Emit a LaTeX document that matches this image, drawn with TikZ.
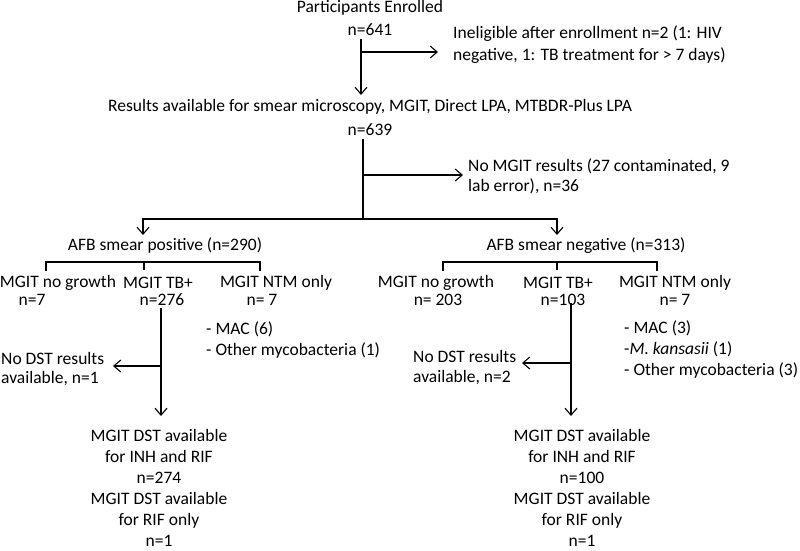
\documentclass[tikz,border=0pt]{standalone}
\usepackage{fontspec}
\setmainfont{Carlito}
\usetikzlibrary{arrows.meta}
\begin{document}
\begin{tikzpicture}[x=1pt,y=-1pt,
  txt/.style={inner sep=0pt,font=\fontsize{17.5}{21}\selectfont},
  lft/.style={txt,anchor=west,align=left},
  ctr/.style={txt,align=center},
  ln/.style={line width=1.1pt},
  arr/.style={ln,-{Straight Barb[length=7pt,width=12pt,line width=1.1pt]}}]
\useasboundingbox (0,0) rectangle (800,550);
% texts
\node[ctr] (pe) at (370,8) {Participants Enrolled};
\node[ctr] (n641) at (370,30) {n=641};
\node[lft,font=\fontsize{17.5}{22}\selectfont] (inel) at (453,44.5) {Ineligible after enrollment n=2 (1: HIV\\negative, 1: TB treatment for > 7 days)};
\node[ctr] (res) at (370,107) {Results available for smear microscopy, MGIT, Direct LPA, MTBDR-Plus LPA};
\node[ctr] (n639) at (370,130) {n=639};
\node[lft,font=\fontsize{17.5}{19.5}\selectfont] (nomgit) at (468,176.5) {No MGIT results (27 contaminated, 9\\lab error), n=36};
\node[ctr] (afbp) at (165,246) {AFB smear positive (n=290)};
\node[ctr] (afbn) at (586,246) {AFB smear negative (n=313)};
% left group
\node[ctr] (pnog) at (58,283) {MGIT no growth};
\node[ctr] (pnogn) at (32,300) {n=7};
\node[ctr] (ptb) at (158,283) {MGIT TB+};
\node[ctr] (ptbn) at (162,300) {n=276};
\node[ctr] (pntm) at (276,283) {MGIT NTM only};
\node[ctr] (pntmn) at (262,300) {n= 7};
\node[lft] (plist) at (206,339.5) {- MAC (6)\\- Other mycobacteria (1)};
\node[lft,font=\fontsize{17.5}{19.5}\selectfont] (pnodst) at (1,369) {No DST results\\available, n=1};
\node[ctr,font=\fontsize{17.5}{21}\selectfont] (pdst) at (159,487.5) {MGIT DST available\\for INH and RIF\\n=274\\MGIT DST available\\for RIF only\\n=1};
% right group
\node[ctr] (nnog) at (436,283) {MGIT no growth};
\node[ctr] (nnogn) at (438,300) {n= 203};
\node[ctr] (ntb) at (558,283) {MGIT TB+};
\node[ctr] (ntbn) at (563,300) {n=103};
\node[ctr] (nntm) at (675,283) {MGIT NTM only};
\node[ctr] (nntmn) at (675,300) {n= 7};
\node[lft] (nlist) at (624,349) {- MAC (3)\\-\textit{M. kansasii} (1)\\- Other mycobacteria (3)};
\node[lft,font=\fontsize{17.5}{19.5}\selectfont] (nnodst) at (413,367.5) {No DST results\\available, n=2};
\node[ctr,font=\fontsize{17.5}{21}\selectfont] (ndst) at (582,487.5) {MGIT DST available\\for INH and RIF\\n=100\\MGIT DST available\\for RIF only\\n=1};
% junction coordinates
\coordinate (s1) at (361,39);
\coordinate (j1) at (361,52);
\coordinate (t1) at (438,52);
\coordinate (r1) at (361,95);
\coordinate (s2) at (363,139);
\coordinate (j2) at (363,175);
\coordinate (t2) at (463,175);
\coordinate (h2) at (363,219);
\coordinate (hl) at (143,219);
\coordinate (hr) at (557,219);
\coordinate (al) at (143,235);
\coordinate (ar) at (557,235);
% connectors
\draw[arr] (s1) -- (r1);
\draw[arr] (j1) -- (t1);
\draw[ln] (s2) -- (h2);
\draw[arr] (j2) -- (t2);
\draw[arr] (h2) -- (hl) -- (al);
\draw[arr] (h2) -- (hr) -- (ar);
% brackets
\coordinate (pb1) at (46,262);
\coordinate (pb2) at (144,262);
\coordinate (pb3) at (260,262);
\draw[ln] ([yshift=-9pt]pb1) -- (pb1) -- (pb3) -- ([yshift=-9pt]pb3);
\draw[ln] (pb2) -- ([yshift=-8pt]pb2);
\coordinate (nb1) at (443,262);
\coordinate (nb2) at (557,262);
\coordinate (nb3) at (657,262);
\draw[ln] ([yshift=-9pt]nb1) -- (nb1) -- (nb3) -- ([yshift=-9pt]nb3);
\draw[ln] (nb2) -- ([yshift=-8pt]nb2);
% DST branches
\coordinate (ps) at (161,308);
\coordinate (pj) at (161,366);
\coordinate (pt) at (113,366);
\coordinate (pe2) at (161,416);
\draw[arr] (ps) -- (pe2);
\draw[arr] (pj) -- (pt);
\coordinate (ns) at (571,303);
\coordinate (nj) at (571,363);
\coordinate (nt) at (522,363);
\coordinate (ne2) at (571,416);
\draw[arr] (ns) -- (ne2);
\draw[arr] (nj) -- (nt);
\end{tikzpicture}
\end{document}
